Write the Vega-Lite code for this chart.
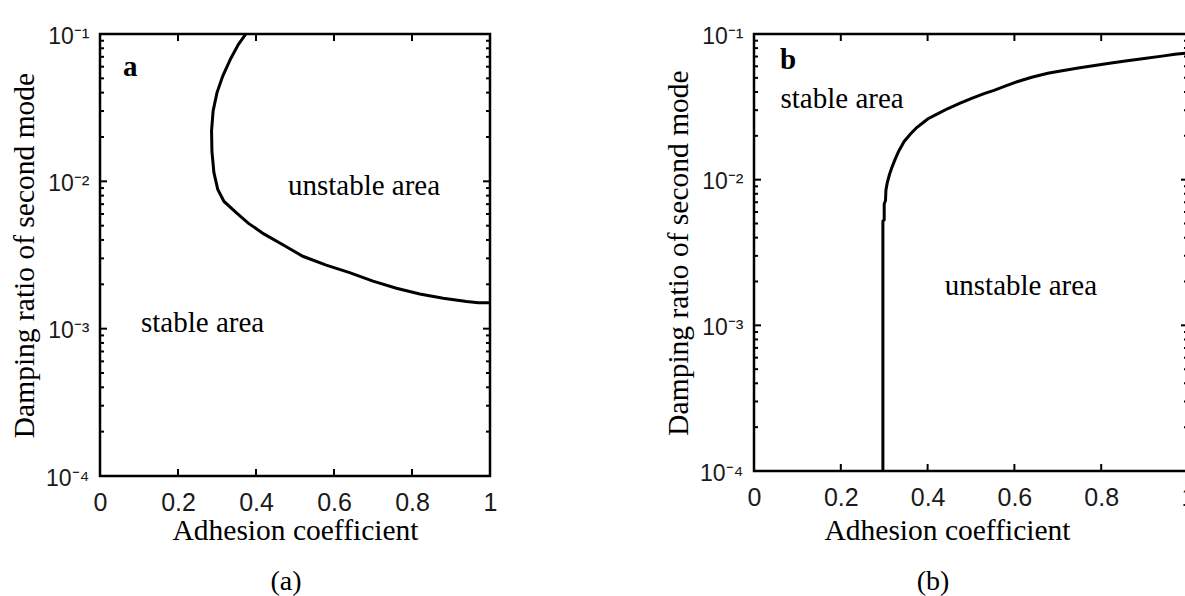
{
  "$schema": "https://vega.github.io/schema/vega-lite/v6.json",
  "background": "white",
  "padding": {"left": 8, "top": 23, "right": 0, "bottom": 0},
  "spacing": 163,
  "config": {
    "view": {"stroke": "black", "strokeWidth": 2.5},
    "axis": {
      "grid": false, "domain": false, "ticks": false,
      "labelFont": "Liberation Sans", "labelFontSize": 25, "labelColor": "#1a1a1a",
      "titleFont": "Liberation Serif", "titleFontSize": 29.5, "titleFontWeight": "normal", "titleColor": "black",
      "labelFlush": false, "labelOverlap": false
    },
    "title": {"font": "Liberation Serif", "fontSize": 28, "fontWeight": "normal", "color": "black"}
  },
  "datasets": {
    "curveA": [
      {"i": 0, "x": 0.374, "y": 0.1},
      {"i": 1, "x": 0.355, "y": 0.085},
      {"i": 2, "x": 0.335, "y": 0.068},
      {"i": 3, "x": 0.315, "y": 0.052},
      {"i": 4, "x": 0.300, "y": 0.040},
      {"i": 5, "x": 0.290, "y": 0.030},
      {"i": 6, "x": 0.286, "y": 0.022},
      {"i": 7, "x": 0.287, "y": 0.016},
      {"i": 8, "x": 0.292, "y": 0.0115},
      {"i": 9, "x": 0.302, "y": 0.0088},
      {"i": 10, "x": 0.318, "y": 0.0073},
      {"i": 11, "x": 0.350, "y": 0.0061},
      {"i": 12, "x": 0.380, "y": 0.0052},
      {"i": 13, "x": 0.420, "y": 0.0044},
      {"i": 14, "x": 0.470, "y": 0.0037},
      {"i": 15, "x": 0.520, "y": 0.0031},
      {"i": 16, "x": 0.580, "y": 0.0027},
      {"i": 17, "x": 0.640, "y": 0.0024},
      {"i": 18, "x": 0.700, "y": 0.0021},
      {"i": 19, "x": 0.760, "y": 0.00188},
      {"i": 20, "x": 0.820, "y": 0.00172},
      {"i": 21, "x": 0.880, "y": 0.00161},
      {"i": 22, "x": 0.940, "y": 0.00153},
      {"i": 23, "x": 0.970, "y": 0.00150},
      {"i": 24, "x": 1.000, "y": 0.00150}
    ],
    "curveB": [
      {"i": 0, "x": 0.297, "y": 0.0001},
      {"i": 1, "x": 0.297, "y": 0.0052},
      {"i": 2, "x": 0.300, "y": 0.0053},
      {"i": 3, "x": 0.300, "y": 0.0068},
      {"i": 4, "x": 0.303, "y": 0.0072},
      {"i": 5, "x": 0.304, "y": 0.0085},
      {"i": 6, "x": 0.307, "y": 0.0095},
      {"i": 7, "x": 0.312, "y": 0.0108},
      {"i": 8, "x": 0.318, "y": 0.0122},
      {"i": 9, "x": 0.326, "y": 0.0140},
      {"i": 10, "x": 0.334, "y": 0.0158},
      {"i": 11, "x": 0.346, "y": 0.0183},
      {"i": 12, "x": 0.360, "y": 0.0205},
      {"i": 13, "x": 0.375, "y": 0.0228},
      {"i": 14, "x": 0.390, "y": 0.0247},
      {"i": 15, "x": 0.401, "y": 0.0262},
      {"i": 16, "x": 0.425, "y": 0.0285},
      {"i": 17, "x": 0.447, "y": 0.0308},
      {"i": 18, "x": 0.475, "y": 0.0335},
      {"i": 19, "x": 0.500, "y": 0.0360},
      {"i": 20, "x": 0.530, "y": 0.0390},
      {"i": 21, "x": 0.553, "y": 0.0410},
      {"i": 22, "x": 0.580, "y": 0.0440},
      {"i": 23, "x": 0.608, "y": 0.0472},
      {"i": 24, "x": 0.640, "y": 0.0505},
      {"i": 25, "x": 0.677, "y": 0.0537},
      {"i": 26, "x": 0.710, "y": 0.0560},
      {"i": 27, "x": 0.747, "y": 0.0585},
      {"i": 28, "x": 0.785, "y": 0.0607},
      {"i": 29, "x": 0.823, "y": 0.0632},
      {"i": 30, "x": 0.860, "y": 0.0655},
      {"i": 31, "x": 0.899, "y": 0.0680},
      {"i": 32, "x": 0.940, "y": 0.0705},
      {"i": 33, "x": 0.970, "y": 0.0725},
      {"i": 34, "x": 1.000, "y": 0.0740}
    ],
    "textA": [
      {"x": 0.677, "y": 0.00807, "t": "unstable area"},
      {"x": 0.263, "y": 0.000953, "t": "stable area"}
    ],
    "letterA": [{"x": 0.059, "y": 0.0519, "t": "a"}],
    "textB": [
      {"x": 0.203, "y": 0.0309, "t": "stable area"},
      {"x": 0.615, "y": 0.00161, "t": "unstable area"}
    ],
    "letterB": [{"x": 0.060, "y": 0.0574, "t": "b"}],
    "xticks": [{"v": 0.2}, {"v": 0.4}, {"v": 0.6}, {"v": 0.8}],
    "ymajor": [{"v": 0.001}, {"v": 0.01}],
    "yminor": [
      {"v": 0.0002}, {"v": 0.0003}, {"v": 0.0004}, {"v": 0.0005}, {"v": 0.0006}, {"v": 0.0007}, {"v": 0.0008}, {"v": 0.0009},
      {"v": 0.002}, {"v": 0.003}, {"v": 0.004}, {"v": 0.005}, {"v": 0.006}, {"v": 0.007}, {"v": 0.008}, {"v": 0.009},
      {"v": 0.02}, {"v": 0.03}, {"v": 0.04}, {"v": 0.05}, {"v": 0.06}, {"v": 0.07}, {"v": 0.08}, {"v": 0.09}
    ]
  },
  "hconcat": [
    {
      "width": 390, "height": 442,
      "title": {"text": "(a)", "orient": "bottom", "offset": 23, "dx": -9},
      "resolve": {"axis": {"x": "independent", "y": "independent"}},
      "layer": [
        {
          "data": {"name": "curveA"},
          "mark": {"type": "line", "color": "black", "strokeWidth": 3, "clip": true},
          "encoding": {
            "order": {"field": "i", "type": "quantitative"},
            "x": {"field": "x", "type": "quantitative", "scale": {"domain": [0, 1]},
              "axis": {"orient": "bottom", "values": [0, 0.2, 0.4, 0.6, 0.8, 1], "format": "~g", "labelPadding": 14, "title": "Adhesion coefficient", "titlePadding": 1}},
            "y": {"field": "y", "type": "quantitative", "scale": {"type": "log", "domain": [0.0001, 0.1]},
              "axis": {"orient": "left", "title": "Damping ratio of second mode", "titlePadding": 6, "labelPadding": 11, "labelOffset": 2, "labelFontSize": 23,
                "values": [0.0001, 0.001, 0.01, 0.1],
                "labelExpr": "datum.value == 0.1 ? '10⁻¹' : datum.value == 0.01 ? '10⁻²' : datum.value == 0.001 ? '10⁻³' : '10⁻⁴'"}}
          }
        },
        {
          "data": {"name": "textA"},
          "mark": {"type": "text", "font": "Liberation Serif", "fontSize": 29, "color": "black", "align": "center", "baseline": "alphabetic"},
          "encoding": {
            "x": {"field": "x", "type": "quantitative", "axis": null},
            "y": {"field": "y", "type": "quantitative", "axis": null},
            "text": {"field": "t"}
          }
        },
        {
          "data": {"name": "letterA"},
          "mark": {"type": "text", "font": "Liberation Serif", "fontSize": 29, "fontWeight": "bold", "color": "black", "align": "left", "baseline": "alphabetic"},
          "encoding": {
            "x": {"field": "x", "type": "quantitative", "axis": null},
            "y": {"field": "y", "type": "quantitative", "axis": null},
            "text": {"field": "t"}
          }
        },
        {
          "data": {"name": "xticks"},
          "mark": {"type": "tick", "orient": "vertical", "size": 14, "thickness": 2, "color": "black", "opacity": 1, "clip": true},
          "encoding": {"x": {"field": "v", "type": "quantitative", "axis": null}, "y": {"datum": 0.0001, "type": "quantitative", "axis": null}}
        },
        {
          "data": {"name": "xticks"},
          "mark": {"type": "tick", "orient": "vertical", "size": 14, "thickness": 2, "color": "black", "opacity": 1, "clip": true},
          "encoding": {"x": {"field": "v", "type": "quantitative", "axis": null}, "y": {"datum": 0.1, "type": "quantitative", "axis": null}}
        },
        {
          "data": {"name": "ymajor"},
          "mark": {"type": "tick", "orient": "horizontal", "size": 14, "thickness": 2, "color": "black", "opacity": 1, "clip": true},
          "encoding": {"y": {"field": "v", "type": "quantitative", "axis": null}, "x": {"datum": 0, "type": "quantitative", "axis": null}}
        },
        {
          "data": {"name": "ymajor"},
          "mark": {"type": "tick", "orient": "horizontal", "size": 14, "thickness": 2, "color": "black", "opacity": 1, "clip": true},
          "encoding": {"y": {"field": "v", "type": "quantitative", "axis": null}, "x": {"datum": 1, "type": "quantitative", "axis": null}}
        },
        {
          "data": {"name": "yminor"},
          "mark": {"type": "tick", "orient": "horizontal", "size": 8, "thickness": 2, "color": "black", "opacity": 1, "clip": true},
          "encoding": {"y": {"field": "v", "type": "quantitative", "axis": null}, "x": {"datum": 0, "type": "quantitative", "axis": null}}
        },
        {
          "data": {"name": "yminor"},
          "mark": {"type": "tick", "orient": "horizontal", "size": 8, "thickness": 2, "color": "black", "opacity": 1, "clip": true},
          "encoding": {"y": {"field": "v", "type": "quantitative", "axis": null}, "x": {"datum": 1, "type": "quantitative", "axis": null}}
        }
      ]
    },
    {
      "width": 434, "height": 437,
      "title": {"text": "(b)", "orient": "bottom", "offset": 23, "dx": -38},
      "resolve": {"axis": {"x": "independent", "y": "independent"}},
      "layer": [
        {
          "data": {"name": "curveB"},
          "mark": {"type": "line", "color": "black", "strokeWidth": 3, "clip": true},
          "encoding": {
            "order": {"field": "i", "type": "quantitative"},
            "x": {"field": "x", "type": "quantitative", "scale": {"domain": [0, 1]},
              "axis": {"orient": "bottom", "values": [0, 0.2, 0.4, 0.6, 0.8, 1], "format": "~g", "labelPadding": 14, "title": "Adhesion coefficient", "titlePadding": 6, "titleX": 193}},
            "y": {"field": "y", "type": "quantitative", "scale": {"type": "log", "domain": [0.0001, 0.1]},
              "axis": {"orient": "left", "title": "Damping ratio of second mode", "titlePadding": 6, "labelPadding": 11, "labelOffset": 2, "labelFontSize": 23,
                "values": [0.0001, 0.001, 0.01, 0.1],
                "labelExpr": "datum.value == 0.1 ? '10⁻¹' : datum.value == 0.01 ? '10⁻²' : datum.value == 0.001 ? '10⁻³' : '10⁻⁴'"}}
          }
        },
        {
          "data": {"name": "textB"},
          "mark": {"type": "text", "font": "Liberation Serif", "fontSize": 29, "color": "black", "align": "center", "baseline": "alphabetic"},
          "encoding": {
            "x": {"field": "x", "type": "quantitative", "axis": null},
            "y": {"field": "y", "type": "quantitative", "axis": null},
            "text": {"field": "t"}
          }
        },
        {
          "data": {"name": "letterB"},
          "mark": {"type": "text", "font": "Liberation Serif", "fontSize": 29, "fontWeight": "bold", "color": "black", "align": "left", "baseline": "alphabetic"},
          "encoding": {
            "x": {"field": "x", "type": "quantitative", "axis": null},
            "y": {"field": "y", "type": "quantitative", "axis": null},
            "text": {"field": "t"}
          }
        },
        {
          "data": {"name": "xticks"},
          "mark": {"type": "tick", "orient": "vertical", "size": 14, "thickness": 2, "color": "black", "opacity": 1, "clip": true},
          "encoding": {"x": {"field": "v", "type": "quantitative", "axis": null}, "y": {"datum": 0.0001, "type": "quantitative", "axis": null}}
        },
        {
          "data": {"name": "xticks"},
          "mark": {"type": "tick", "orient": "vertical", "size": 14, "thickness": 2, "color": "black", "opacity": 1, "clip": true},
          "encoding": {"x": {"field": "v", "type": "quantitative", "axis": null}, "y": {"datum": 0.1, "type": "quantitative", "axis": null}}
        },
        {
          "data": {"name": "ymajor"},
          "mark": {"type": "tick", "orient": "horizontal", "size": 14, "thickness": 2, "color": "black", "opacity": 1, "clip": true},
          "encoding": {"y": {"field": "v", "type": "quantitative", "axis": null}, "x": {"datum": 0, "type": "quantitative", "axis": null}}
        },
        {
          "data": {"name": "ymajor"},
          "mark": {"type": "tick", "orient": "horizontal", "size": 14, "thickness": 2, "color": "black", "opacity": 1, "clip": true},
          "encoding": {"y": {"field": "v", "type": "quantitative", "axis": null}, "x": {"datum": 1, "type": "quantitative", "axis": null}}
        },
        {
          "data": {"name": "yminor"},
          "mark": {"type": "tick", "orient": "horizontal", "size": 8, "thickness": 2, "color": "black", "opacity": 1, "clip": true},
          "encoding": {"y": {"field": "v", "type": "quantitative", "axis": null}, "x": {"datum": 0, "type": "quantitative", "axis": null}}
        },
        {
          "data": {"name": "yminor"},
          "mark": {"type": "tick", "orient": "horizontal", "size": 8, "thickness": 2, "color": "black", "opacity": 1, "clip": true},
          "encoding": {"y": {"field": "v", "type": "quantitative", "axis": null}, "x": {"datum": 1, "type": "quantitative", "axis": null}}
        }
      ]
    }
  ]
}
